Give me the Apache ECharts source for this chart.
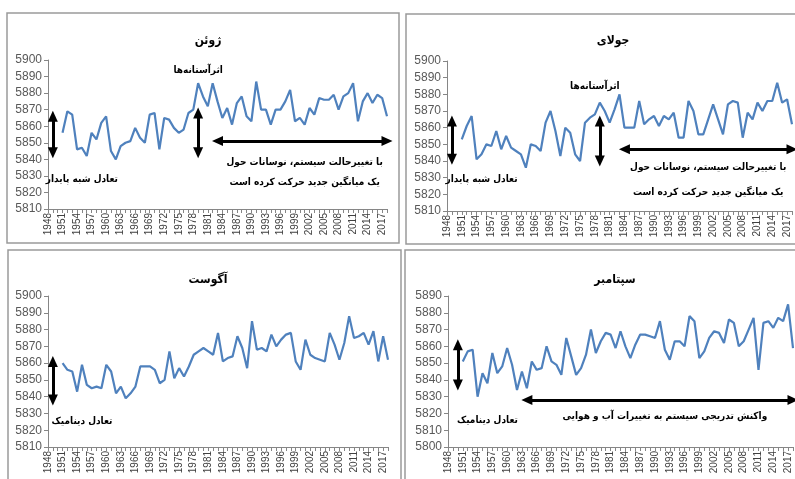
<!DOCTYPE html>
<html>
<head>
<meta charset="utf-8">
<script src="https://cdn.jsdelivr.net/npm/echarts@6/dist/echarts.min.js"></script>
<style>
html,body{margin:0;padding:0;background:#fff;}
#chart{width:795px;height:479px;}
</style>
</head>
<body>
<div id="chart"></div>
<script>
// ---- categories (x axis) ----
const years = ['1948','1949','1950','1951','1952','1953','1954','1955','1956','1957','1958','1959',
'1960','1961','1962','1963','1964','1965','1966','1967','1968','1969','1970','1971','1972','1973',
'1974','1975','1976','1977','1978','1979','1980','1981','1982','1983','1984','1985','1986','1987',
'1988','1989','1990','1991','1992','1993','1994','1995','1996','1997','1998','1999','2000','2001',
'2002','2003','2004','2005','2006','2007','2008','2009','2010','2011','2012','2013','2014','2015',
'2016','2017','2018'];
const firstDataYear = '1951';

// ---- series values, 1951..2018 ----
const juneValues = [5856,5869,5867,5846,5847,5842,5856,5852,5862,5866,
5845,5840,5848,5850,5851,5859,5853,5850,5867,5868,
5846,5865,5864,5859,5856,5858,5868,5870,5886,5878,
5872,5886,5875,5865,5871,5861,5874,5878,5866,5863,
5887,5870,5870,5861,5870,5870,5875,5882,5863,5865,
5861,5871,5867,5877,5876,5876,5879,5870,5878,5880,
5886,5863,5875,5880,5874,5879,5877,5866];
const julyValues = [5853,5861,5867,5841,5844,5850,5849,5858,5847,5855,
5848,5846,5844,5836,5850,5849,5846,5863,5870,5858,
5843,5860,5857,5844,5840,5863,5866,5868,5875,5870,
5863,5871,5880,5860,5860,5860,5876,5862,5865,5867,
5861,5867,5865,5869,5854,5854,5876,5870,5856,5856,
5865,5874,5865,5856,5874,5876,5875,5854,5869,5865,
5875,5870,5876,5876,5887,5875,5877,5862];
const augustValues = [5860,5856,5855,5843,5859,5847,5845,5846,5845,5859,
5855,5842,5846,5839,5842,5846,5858,5858,5858,5856,
5848,5850,5867,5851,5857,5852,5858,5865,5867,5869,
5867,5865,5878,5861,5863,5864,5876,5869,5857,5885,
5868,5869,5867,5877,5870,5874,5877,5878,5861,5856,
5874,5865,5863,5862,5861,5878,5871,5862,5872,5888,
5875,5876,5878,5871,5879,5861,5876,5862];
const septemberValues = [5851,5857,5858,5830,5844,5838,5856,5844,5848,5859,
5849,5834,5845,5835,5851,5846,5847,5860,5851,5849,
5843,5865,5854,5843,5847,5855,5870,5856,5863,5868,
5867,5859,5869,5860,5853,5861,5867,5867,5866,5865,
5875,5858,5852,5863,5863,5860,5878,5875,5853,5857,
5865,5869,5868,5862,5876,5874,5860,5863,5870,5877,
5846,5874,5875,5871,5877,5875,5885,5859];

// ---- titles ----
const panelTitles = ['ژوئن', 'جولای', 'آگوست', 'سپتامبر'];

// ---- y axis ranges (tick labels) ----
const yMins = [5810, 5810, 5810, 5800];
const yMaxs = [5900, 5900, 5900, 5890];
const yStep = 10;

// ---- annotations: arrows [x1, y1, x2, y2] in data space ----
const juneArrows = [['1949',5866,'1949',5844],['1979',5868,'1979',5844],['1983',5851,'2018',5851]];
const julyArrows = [['1949',5864,'1949',5841],['1979',5864,'1979',5840],['1984',5847,'2018',5847]];
const augustArrows = [['1949',5861,'1949',5838]];
const septemberArrows = [['1950',5861,'1950',5837],['1964',5828,'2018',5828]];

// ---- annotations: texts [x, y, text] in data space ----
const juneNotes = [['1979',5894,'اثرآستانه‌ها'],['1955',5828,'تعادل شبه پایدار'],
  ['2001',5838,'با تغییرحالت سیستم، نوسانات حول'],['2001',5826,'یک میانگین جدید حرکت کرده است']];
const julyNotes = [['1978',5885,'اثرآستانه‌ها'],['1955',5829,'تعادل شبه پایدار'],
  ['2001',5836,'با تغییرحالت سیستم، نوسانات حول'],['2001',5821,'یک میانگین جدید حرکت کرده است']];
const augustNotes = [['1955',5825,'تعادل دینامیک']];
const septemberNotes = [['1956',5816,'تعادل دینامیک'],['1992',5818,'واکنش تدریجی سیستم به تغییرات آب و هوایی']];

// ---------- build ----------
const pad = years.indexOf(firstDataYear);
function padded(vals){ return new Array(pad).fill(null).concat(vals); }

const grids = [
  {left:48, top:60, width:339, height:149},
  {left:447, top:61, width:345, height:150},
  {left:48, top:296, width:340, height:151},
  {left:448, top:296, width:345, height:151}
];
const titlePos = [[203,30],[608,30],[203,269],[610,269]];
const allValues = [juneValues, julyValues, augustValues, septemberValues];
const allArrows = [juneArrows, julyArrows, augustArrows, septemberArrows];
const allNotes = [juneNotes, julyNotes, augustNotes, septemberNotes];

const faFont = '"DejaVu Sans Condensed", "DejaVu Sans", sans-serif';
const numFont = '"Liberation Sans", Arial, sans-serif';

const option = {
  animation:false,
  backgroundColor:'#fff',
  title: panelTitles.map((t,i)=>({
    text:t, left:titlePos[i][0], top:titlePos[i][1], textAlign:'center',
    textStyle:{fontFamily:faFont, fontSize:12, fontWeight:'bold', color:'#000'}
  })),
  grid: grids,
  xAxis: grids.map((g,i)=>({
    type:'category', gridIndex:i, data:years, boundaryGap:false,
    axisLine:{lineStyle:{color:'#868686', width:1}},
    axisTick:{show:true, interval:0, length:4, lineStyle:{color:'#868686'}},
    axisLabel:{interval:2, rotate:90, fontSize:10, fontFamily:numFont, color:'#404040', margin:4},
    splitLine:{show:false}
  })),
  yAxis: grids.map((g,i)=>({
    type:'value', gridIndex:i, min:yMins[i], max:yMaxs[i], interval:yStep,
    axisLine:{show:true, lineStyle:{color:'#868686', width:1}},
    axisTick:{show:true, length:4, lineStyle:{color:'#868686'}},
    axisLabel:{fontSize:12, fontFamily:numFont, color:'#595959', margin:6,
      formatter:function(v){ return String(v); }},
    splitLine:{show:false}
  })),
  series: allValues.map((vals,i)=>({
    type:'line', xAxisIndex:i, yAxisIndex:i, data:padded(vals),
    showSymbol:false, symbol:'none',
    lineStyle:{color:'#4f81bd', width:2.2},
    itemStyle:{color:'#4f81bd'},
    markLine:{
      silent:true, symbol:['triangle','triangle'], symbolSize:[10,11], precision:0,
      label:{show:false},
      lineStyle:{color:'#000', width:3, type:'solid'},
      emphasis:{disabled:true},
      data: allArrows[i].map(a=>[{coord:[a[0],a[1]]},{coord:[a[2],a[3]]}])
    },
    markPoint:{
      silent:true,
      data: allNotes[i].map(n=>({
        coord:[n[0],n[1]], symbol:'circle', symbolSize:1,
        itemStyle:{color:'rgba(0,0,0,0)'},
        label:{show:true, position:'inside', formatter:n[2],
          fontFamily:faFont, fontSize:10, fontWeight:'bold', color:'#000'}
      }))
    }
  })),
  graphic: [
    {type:'rect', shape:{x:7, y:13, width:392, height:230}, style:{fill:'transparent', stroke:'#9a9a9a', lineWidth:1.5}, silent:true, z:-1},
    {type:'rect', shape:{x:406, y:14, width:400, height:230}, style:{fill:'transparent', stroke:'#9a9a9a', lineWidth:1.5}, silent:true, z:-1},
    {type:'rect', shape:{x:8, y:250, width:393, height:240}, style:{fill:'transparent', stroke:'#9a9a9a', lineWidth:1.5}, silent:true, z:-1},
    {type:'rect', shape:{x:405, y:250, width:400, height:240}, style:{fill:'transparent', stroke:'#9a9a9a', lineWidth:1.5}, silent:true, z:-1}
  ]
};

const chart = echarts.init(document.getElementById('chart'), null, {renderer:'canvas'});
chart.setOption(option);
</script>
</body>
</html>
